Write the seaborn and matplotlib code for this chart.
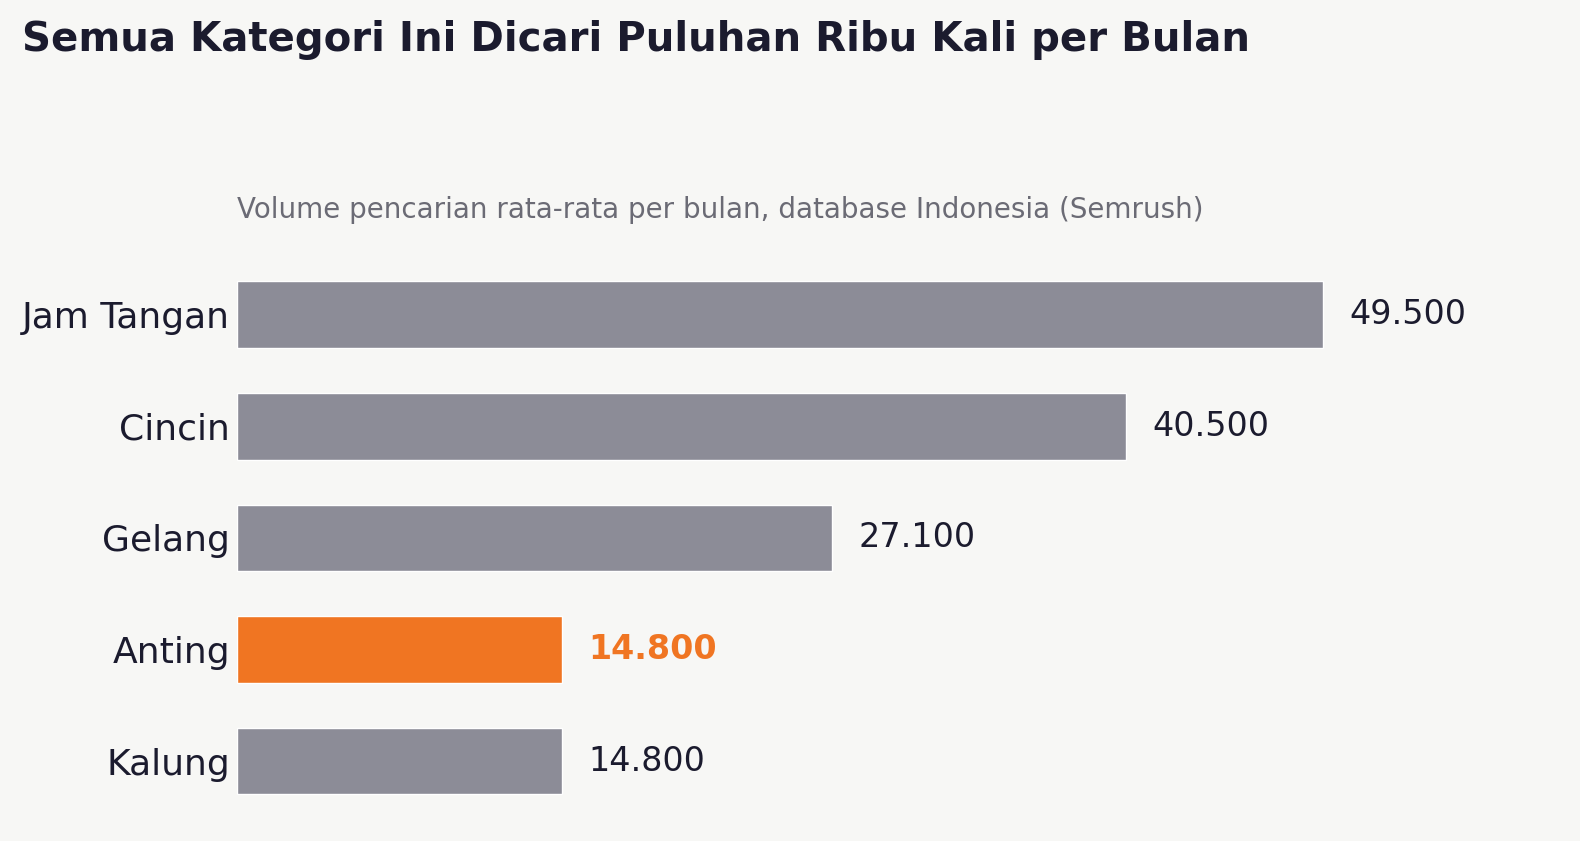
import pandas as pd
import matplotlib.pyplot as plt
import seaborn as sns

# Data
kategori = ['Jam Tangan', 'Cincin', 'Gelang', 'Anting', 'Kalung']
volume = [49500, 40500, 27100, 14800, 14800]
sorotan = 'Anting'

bg = '#f7f7f5'
abu = '#8c8c97'
oranye = '#f07522'
gelap = '#1b1b2e'

df = pd.DataFrame({'Kategori': kategori, 'Volume': volume})
warna = {k: (oranye if k == sorotan else abu) for k in kategori}

sns.set_theme(style='white')
plt.rcParams['font.family'] = ['DejaVu Sans']

fig = plt.figure(figsize=(15.8, 8.41), dpi=100, facecolor=bg)
ax = fig.add_axes([0.1500, 0.0288, 0.80, 0.663], facecolor=bg)

sns.barplot(data=df, x='Volume', y='Kategori', hue='Kategori', palette=warna,
            order=kategori, width=0.6, legend=False, ax=ax, saturation=1)

ax.set_xlim(0, 57600)
ax.set_xlabel('')
ax.set_ylabel('')
ax.set_xticks([])
for s in ax.spines.values():
    s.set_visible(False)
ax.tick_params(axis='y', length=0, pad=5, labelsize=26, labelcolor=gelap)

# Label nilai
for i, (k, v) in enumerate(zip(kategori, volume)):
    teks = f'{v:,}'.replace(',', '.')
    if k == sorotan:
        ax.annotate(teks, (v, i), xytext=(19, 0), textcoords='offset points',
                    va='center', ha='left', fontsize=24, color=oranye, fontweight='bold')
    else:
        ax.annotate(teks, (v, i), xytext=(19, 0), textcoords='offset points',
                    va='center', ha='left', fontsize=24, color=gelap)

fig.text(0.014, 1 - 40 / 841, 'Semua Kategori Ini Dicari Puluhan Ribu Kali per Bulan',
         fontsize=29, fontweight='bold', color=gelap, va='center', ha='left')
fig.text(0.1500, 1 - 210 / 841,
         'Volume pencarian rata-rata per bulan, database Indonesia (Semrush)',
         fontsize=20, color='#6b6b75', va='center', ha='left')

fig.savefig('out.png', dpi=100, facecolor=bg)
